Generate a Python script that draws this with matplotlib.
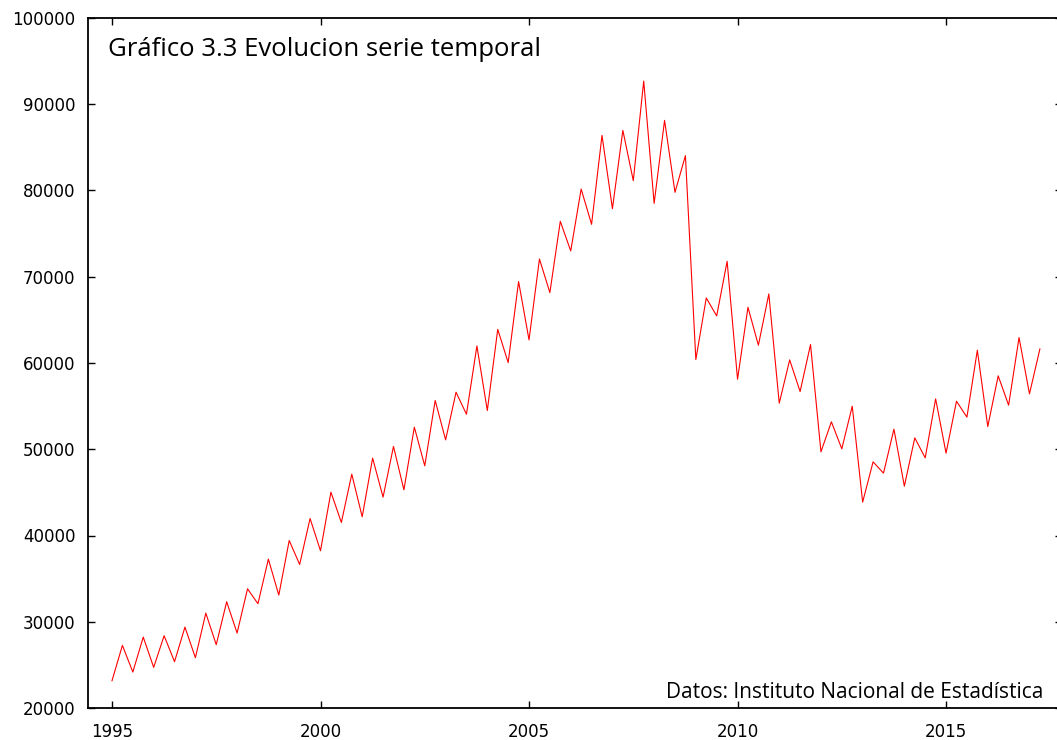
import numpy as np
import matplotlib
matplotlib.use('Agg')
import matplotlib.pyplot as plt

# Quarterly series, 1995Q1 .. 2017Q2
start_year = 1995
values = [
    23160, 27260, 24170, 28220, 24710, 28380, 25370, 29380, 25830, 31000,
    27340, 32320, 28690, 33820, 32090, 37260, 33090, 39420, 36640, 41970,
    38230, 45030, 41510, 47110, 42170, 48970, 44450, 50320, 45300, 52560,
    48080, 55650, 51090, 56610, 54060, 61980, 54490, 63900, 60050, 69440,
    62680, 72060, 68160, 76430, 72990, 80170, 76080, 86390, 77890, 86970,
    81140, 92690, 78510, 88130, 79790, 84040, 60400, 67540, 65460, 71790,
    58120, 66460, 62060, 68010, 55340, 60360, 56690, 62140, 49700, 53180,
    50050, 54990, 43870, 48540, 47230, 52330, 45720, 51320, 49000, 55840,
    49550, 55570, 53720, 61480, 52630, 58510, 55110, 62950, 56420, 61630,
]
x_ticks = [1995, 2000, 2005, 2010, 2015]
y_ticks = [20000, 30000, 40000, 50000, 60000, 70000, 80000, 90000, 100000]
title = 'Gráfico 3.3 Evolucion serie temporal'
source = 'Datos: Instituto Nacional de Estadística'

t = start_year + np.arange(len(values)) / 4.0

W, H = 1057, 740
fig = plt.figure(figsize=(W / 100, H / 100), dpi=100)
left, right, top, bottom = 88, 1062, 18, 708
ax = fig.add_axes([left / W, (H - bottom) / H, (right - left) / W, (bottom - top) / H])

ax.plot(t, values, color='red', linewidth=0.8)

ax.set_xlim(1994.425, 2017.78)
ax.set_ylim(20000, 100000)
ax.set_xticks(x_ticks)
ax.set_yticks(y_ticks)
ax.tick_params(direction='in', length=5, width=1, top=True, right=True,
               labelsize=12, colors='black')
ax.tick_params(axis='y', pad=9)
ax.tick_params(axis='x', pad=11)
for s in ax.spines.values():
    s.set_linewidth(1.3)

fig.text(108 / W, 1 - 49 / H, title, fontsize=18.5, family='Open Sans',
         ha='left', va='center')
fig.text(1043 / W, 1 - 692 / H, source, fontsize=15, family='Open Sans',
         ha='right', va='center')

fig.savefig('out.png', dpi=100)
